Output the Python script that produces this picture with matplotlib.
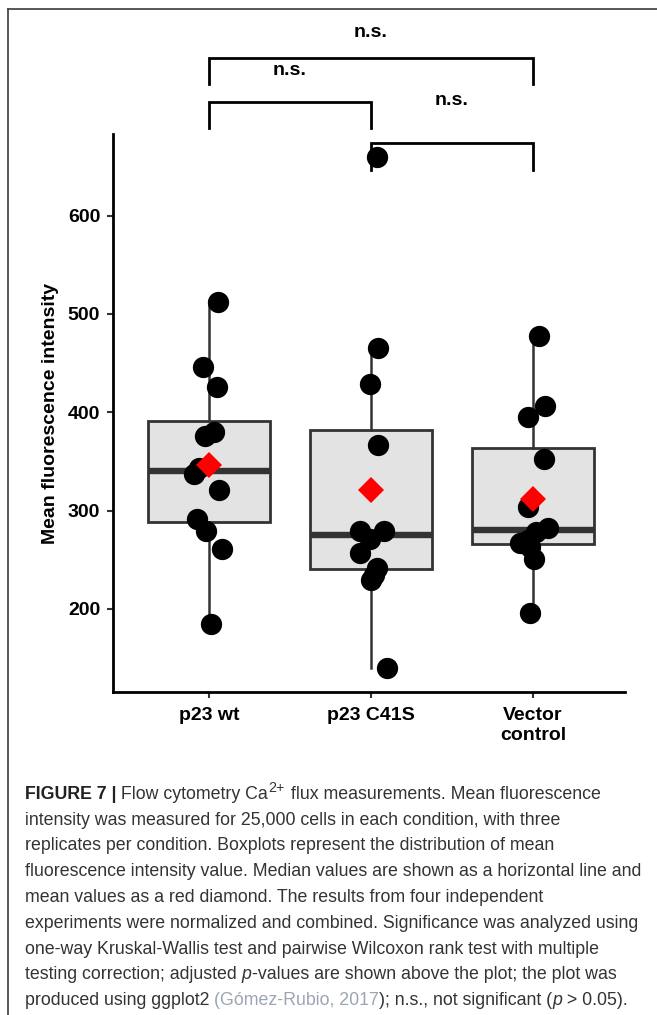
import numpy as np
import matplotlib
matplotlib.use("Agg")
import matplotlib.pyplot as plt
from matplotlib.font_manager import FontProperties
from matplotlib.lines import Line2D

# ---------------- data ----------------
categories = ["p23 wt", "p23 C41S", "Vector\ncontrol"]
wt_values = [512, 446, 426, 380, 376, 343, 337, 321, 292, 279, 261, 185]
wt_jitter = [0.057, -0.037, 0.047, 0.031, -0.026, -0.060, -0.094, 0.063, -0.073, -0.016, 0.078, 0.010]
c41s_values = [660, 465, 429, 367, 279, 279, 271, 257, 242, 235, 229, 140]
c41s_jitter = [0.037, 0.042, -0.005, 0.042, -0.068, 0.081, -0.005, -0.068, 0.037, 0.016, 0.003, 0.099]
vec_values = [478, 406, 395, 353, 304, 282, 278, 270, 267, 263, 251, 196]
vec_jitter = [0.039, 0.073, -0.031, 0.065, -0.031, 0.091, 0.021, -0.031, -0.078, -0.020, 0.005, -0.021]
yticks = [200, 300, 400, 500, 600]
comparisons = [(1, 3, "n.s."), (1, 2, "n.s."), (2, 3, "n.s.")]

caption_lines = [
    [("FIGURE 7 |", "b"), (" Flow cytometry Ca", "r"), ("2+", "sup"), (" flux measurements. Mean fluorescence", "r")],
    [("intensity was measured for 25,000 cells in each condition, with three", "r")],
    [("replicates per condition. Boxplots represent the distribution of mean", "r")],
    [("fluorescence intensity value. Median values are shown as a horizontal line and", "r")],
    [("mean values as a red diamond. The results from four independent", "r")],
    [("experiments were normalized and combined. Significance was analyzed using", "r")],
    [("one-way Kruskal-Wallis test and pairwise Wilcoxon rank test with multiple", "r")],
    [("testing correction; adjusted ", "r"), ("p", "i"), ("-values are shown above the plot; the plot was", "r")],
    [("produced using ggplot2 ", "r"), ("(Gómez-Rubio, 2017", "link"), ("); n.s., not significant (", "r"),
     ("p", "i"), (" > 0.05).", "r")],
]

# ---------------- figure ----------------
W, H = 657, 1015
fig = plt.figure(figsize=(W / 100, H / 100), dpi=100)
fig.patch.set_facecolor("white")

# outer frame (top and left edges visible)
fig.add_artist(Line2D([8 / W, 1.0], [1 - 9 / H, 1 - 9 / H], transform=fig.transFigure,
                      color="#4a4a4a", lw=1.3))
fig.add_artist(Line2D([8 / W, 8 / W], [1 - 9 / H, 0.0], transform=fig.transFigure,
                      color="#4a4a4a", lw=1.3))

ax_l, ax_r, ax_t, ax_b = 112.7, 625, 134, 692
ax = fig.add_axes([ax_l / W, 1 - ax_b / H, (ax_r - ax_l) / W, (ax_b - ax_t) / H])
ax.set_facecolor("white")

groups = [wt_values, c41s_values, vec_values]
jitters = [wt_jitter, c41s_jitter, vec_jitter]
positions = [1, 2, 3]

bp = ax.boxplot(groups, positions=positions, widths=0.75, patch_artist=True,
                showfliers=False, showcaps=False, whis=1.5,
                boxprops=dict(facecolor="#e3e3e3", edgecolor="#333333", linewidth=2.0),
                whiskerprops=dict(color="#333333", linewidth=1.8),
                medianprops=dict(color="#333333", linewidth=4.6, solid_capstyle="butt"),
                zorder=2)

for pos, vals, jit in zip(positions, groups, jitters):
    xs = pos + np.array(jit)
    ax.scatter(xs, vals, s=235, color="black", zorder=4, linewidths=0)
    ax.plot([pos], [np.mean(vals)], marker="D", ms=13.5, color="#ff0000",
            markeredgewidth=0, zorder=5, linestyle="none")

ax.set_xlim(0.406, 3.568)
ax.set_ylim(115.6, 683)
ax.set_yticks(yticks)
ax.set_yticklabels([str(v) for v in yticks])
ax.set_xticks(positions)
ax.set_xticklabels(categories)

for s in ["top", "right"]:
    ax.spines[s].set_visible(False)
for s in ["left", "bottom"]:
    ax.spines[s].set_linewidth(2.0)
    ax.spines[s].set_color("black")

ax.tick_params(axis="both", length=4, width=1.5, color="#333333", labelcolor="black")
ax.tick_params(axis="y", pad=5)
ax.tick_params(axis="x", pad=7)
for lab in ax.get_xticklabels() + ax.get_yticklabels():
    lab.set_fontfamily("Liberation Sans")
    lab.set_fontweight("bold")
    lab.set_fontsize(14)

ax.set_ylabel("Mean fluorescence intensity", fontfamily="Liberation Sans",
              fontweight="bold", fontsize=14)
ax.yaxis.set_label_coords(-0.105, 0.5)

# significance brackets
bars = [(760.4, 734.0, 781.8), (715.7, 689.2, 743.1), (674.0, 646.5, 712.6)]
for (g1, g2, lab), (ytop, yleg, ytxt) in zip(comparisons, bars):
    ax.plot([g1, g1, g2, g2], [yleg, ytop, ytop, yleg], color="black", lw=2.0,
            clip_on=False, solid_joinstyle="miter", zorder=6)
    ax.text((g1 + g2) / 2, ytxt, lab, ha="center", va="baseline", fontfamily="Liberation Sans",
            fontweight="bold", fontsize=14, clip_on=False)

# ---------------- caption ----------------
renderer = fig.canvas.get_renderer()
text_color = "#333333"
link_color = "#9ba6b3"


def props(kind, size):
    if kind == "b":
        return FontProperties(family="Liberation Sans", weight="bold", size=size)
    if kind == "i":
        return FontProperties(family="Liberation Sans", style="italic", size=size)
    if kind == "sup":
        return FontProperties(family="Liberation Sans", size=size * 0.8)
    return FontProperties(family="Liberation Sans", size=size)


def adv(s, fp):
    w1, _, _ = renderer.get_text_width_height_descent("|" + s + "|", fp, ismath=False)
    w0, _, _ = renderer.get_text_width_height_descent("||", fp, ismath=False)
    return w1 - w0


def line_width(segs, size):
    return sum(adv(t, props(k, size)) for t, k in segs)


base = 12.0
target = 620.0
cap_size = base * target / line_width(caption_lines[3], base)

x0 = 25.0
baseline0 = 799.0
spacing = 25.75
for i, segs in enumerate(caption_lines):
    x = x0
    yb = baseline0 + i * spacing
    for t, k in segs:
        fp = props(k, cap_size)
        dy = -0.42 * cap_size * 100 / 72 if k == "sup" else 0.0
        color = link_color if k == "link" else ("#222222" if k == "b" else text_color)
        fig.text(x / W, 1 - (yb + dy) / H, t, fontproperties=fp, color=color,
                 ha="left", va="baseline")
        x += adv(t, fp) + (1.0 if k == "sup" else 0.0)

fig.savefig("out.png", dpi=100, facecolor="white")
